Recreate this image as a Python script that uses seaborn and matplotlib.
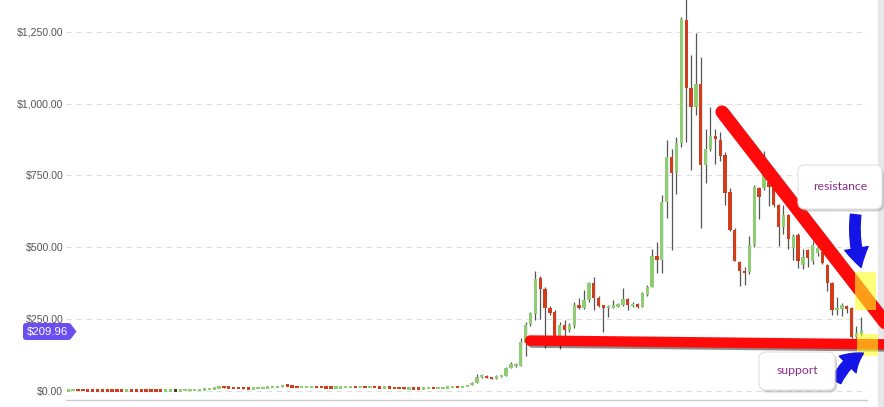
import numpy as np
import pandas as pd
import matplotlib
matplotlib.use("Agg")
import matplotlib.pyplot as plt
import seaborn as sns
from matplotlib.patches import FancyBboxPatch, Rectangle, Polygon, FancyArrowPatch
import matplotlib.patheffects as pe
from matplotlib.ticker import FuncFormatter

# ---------------- data (weekly OHLC, USD) ----------------
opens = [0.8, 1.2, 1.4, 1.3, 1.2, 1.1, 1.0, 0.95, 0.9, 0.8, 0.7, 0.6,
         0.55, 1.0, 0.95, 0.92, 0.9, 0.88, 0.86, 0.85, 0.83, 0.9, 0.95,
         0.95, 1.2, 1.5, 2.2, 2.5, 3.5, 4.5, 6.0, 9.5, 12.5, 11.5, 10.5, 9.5, 8.5, 8.0,
         7.6, 8.5, 9.5, 10.5, 12.0, 13.5, 14.5, 20.0, 17.0, 13.0, 12.0, 12.5, 13.0,
         13.5, 12.0, 11.5, 11.0, 10.8, 11.2, 11.8, 12.2, 12.8, 12.2, 12.6, 12.0,
         12.3, 11.4, 10.8, 11.2, 10.5, 10.0, 9.0, 7.8, 8.3, 8.0, 7.3, 8.0, 9.8, 9.6,
         10.2, 10.8, 11.5, 13.0, 12.5, 15.0, 19.0, 28.0, 48.0, 52.0, 45.0, 42.0, 50.0,
         52, 80, 86, 87, 167, 233, 268, 393, 355, 289, 275, 188,
         230, 210, 226, 299, 289, 317, 376, 324, 299, 289, 290, 292,
         299, 320, 295, 302, 292, 334, 362, 470, 456, 658, 814, 758,
         863, 1290, 1054, 988, 1068, 786, 842, 887, 873, 821, 692, 560,
         449, 417, 414, 508, 706, 706, 727, 710, 647, 570, 612, 497,
         543, 438, 490, 452, 481, 483, 438, 375, 281, 285, 295, 289, 188, 195]
highs = [1.5, 1.6, 1.5, 1.4, 1.3, 1.2, 1.1, 1.0, 0.95, 0.85, 0.75, 0.65,
         1.1, 1.05, 1.0, 0.95, 0.93, 0.9, 0.9, 0.88, 0.92, 0.98, 1.0,
         1.3, 1.6, 2.3, 2.6, 3.6, 4.7, 6.2, 10.5, 15.0, 13.0, 12.0, 11.0, 10.0, 9.0, 8.5,
         8.8, 9.8, 10.8, 12.5, 14.0, 15.0, 21.0, 21.0, 17.5, 13.5, 13.0, 15.5, 15.5,
         14.0, 12.3, 11.8, 11.3, 11.5, 13.5, 12.5, 13.0, 13.0, 12.8, 12.8, 12.5,
         12.4, 11.6, 11.4, 11.3, 10.6, 10.1, 9.1, 8.5, 8.4, 8.1, 8.2, 10.0, 10.0, 10.5,
         11.0, 11.8, 13.5, 13.3, 15.5, 19.5, 29.0, 58.0, 57.0, 54.0, 47.0, 55.0, 53.0,
         82, 100, 95, 184, 240, 275, 418, 400, 360, 295, 280, 240,
         245, 236, 310, 323, 351, 380, 397, 330, 300, 300, 315, 306,
         358, 322, 310, 305, 345, 368, 494, 519, 682, 873, 842, 883,
         1301, 1420, 1169, 1245, 1162, 911, 988, 911, 900, 830, 706, 565,
         452, 432, 539, 715, 710, 835, 745, 720, 650, 648, 615, 545,
         550, 494, 495, 520, 505, 490, 440, 378, 326, 305, 300, 292, 225, 257]
lows = [0.7, 1.1, 1.2, 1.1, 1.0, 0.9, 0.9, 0.8, 0.75, 0.65, 0.5, 0.45,
        0.5, 0.9, 0.88, 0.85, 0.85, 0.83, 0.82, 0.8, 0.82, 0.88, 0.9,
        0.93, 1.15, 1.45, 2.1, 2.4, 3.4, 4.4, 5.9, 9.0, 10.5, 10.0, 9.0, 8.0, 7.5, 7.0,
        7.5, 8.3, 9.3, 10.3, 11.5, 13.0, 14.0, 16.0, 12.5, 11.5, 11.8, 12.0, 12.5,
        11.8, 11.2, 10.8, 10.5, 10.6, 11.0, 11.6, 12.0, 12.0, 12.0, 11.8, 11.8,
        11.2, 10.6, 10.6, 10.3, 9.8, 8.8, 7.0, 7.6, 7.8, 7.1, 7.2, 7.9, 9.4, 9.5,
        10.0, 10.6, 11.3, 12.2, 12.3, 14.8, 18.5, 27.0, 44.0, 44.0, 40.0, 41.0, 48.0,
        51, 78, 84, 85, 120, 225, 247, 250, 150, 265, 181, 146,
        184, 205, 220, 285, 285, 310, 282, 290, 205, 258, 288, 290,
        296, 282, 292, 288, 290, 330, 360, 410, 410, 602, 490, 685,
        850, 866, 769, 960, 567, 723, 835, 790, 800, 647, 555, 450,
        365, 369, 405, 500, 598, 700, 643, 640, 504, 545, 494, 455,
        427, 425, 431, 440, 470, 440, 348, 264, 264, 260, 270, 185, 182, 190]
closes = [1.2, 1.4, 1.3, 1.2, 1.1, 1.0, 0.95, 0.9, 0.8, 0.7, 0.6, 0.55,
          1.0, 0.95, 0.92, 0.9, 0.88, 0.86, 0.85, 0.83, 0.9, 0.95, 0.95,
          1.2, 1.5, 2.2, 2.5, 3.5, 4.5, 6.0, 9.5, 12.5, 11.5, 10.5, 9.5, 8.5, 8.0, 7.6,
          8.5, 9.5, 10.5, 12.0, 13.5, 14.5, 20.0, 17.0, 13.0, 12.0, 12.5, 13.0, 13.5,
          12.0, 11.5, 11.0, 10.8, 11.2, 11.8, 12.2, 12.8, 12.2, 12.6, 12.0, 12.3,
          11.4, 10.8, 11.2, 10.5, 10.0, 9.0, 7.8, 8.3, 8.0, 7.3, 8.0, 9.8, 9.6, 10.2,
          10.8, 11.5, 13.0, 12.5, 15.0, 19.0, 28.0, 48.0, 52.0, 45.0, 42.0, 50.0, 52.0,
          80, 94, 92, 170, 230, 271, 390, 355, 289, 271, 188, 230,
          210, 228, 299, 289, 317, 376, 322, 296, 289, 294, 296, 303,
          320, 299, 302, 292, 341, 362, 470, 456, 658, 814, 758, 863,
          1294, 1054, 988, 1068, 786, 842, 887, 876, 817, 689, 560, 452,
          417, 410, 508, 710, 675, 751, 710, 647, 570, 612, 528, 539,
          450, 466, 462, 508, 497, 445, 375, 281, 288, 299, 285, 188, 202, 210]

y_ticks = [0, 250, 500, 750, 1000, 1250]
last_price_label = "$209.96"
note_resistance = "resistance"
note_support = "support"

assert len(opens) == len(highs) == len(lows) == len(closes)

df = pd.DataFrame({"open": opens, "high": highs, "low": lows, "close": closes})
df["week"] = np.arange(len(df))

# ---------------- style ----------------
sns.set_theme(style="white")
plt.rcParams["font.family"] = ["Liberation Sans", "DejaVu Sans"]

GREEN = "#8fcd72"
RED = "#d23c1c"
WICK = "#555555"

W, H = 884, 407
fig = plt.figure(figsize=(W / 100, H / 100), dpi=100)
ax = fig.add_axes([66 / W, 7 / H, (867 - 66) / W, 400 / H])
ax.set_xlim(-0.47, 164.17)
ax.set_ylim(-32.4, 1360.4)

# candles
min_h = 8.0
diff = (df["close"] - df["open"]).abs()
heights = np.maximum(diff, min_h)
mids = (df["open"] + df["close"]) / 2
bottoms = np.where(diff < min_h, mids - min_h / 2, np.minimum(df["open"], df["close"]))
colors = np.where(df["close"] > df["open"], GREEN,
                  np.where(df["close"] < df["open"], RED, "#444444"))

ax.vlines(df["week"], df["low"], df["high"], color=WICK, lw=0.9, zorder=2)
ax.bar(df["week"], heights, bottom=bottoms, width=0.68, color=colors,
       linewidth=0, zorder=3)

ax.set_yticks(y_ticks)
ax.yaxis.set_major_formatter(FuncFormatter(lambda v, p: f"${v:,.2f}"))
ax.tick_params(axis="y", length=0, pad=2, labelsize=7.6, labelcolor="#555555")
ax.set_xticks([])
ax.yaxis.grid(True, linestyle=(0, (5, 4)), color="#dedede", lw=0.8, zorder=0)
for s in ["top", "right", "left"]:
    ax.spines[s].set_visible(False)
ax.spines["bottom"].set_color("#cccccc")
ax.spines["bottom"].set_linewidth(1.0)

# ---------------- overlay annotations (pixel coordinates) ----------------
ov = fig.add_axes([0, 0, 1, 1])
ov.set_xlim(0, W)
ov.set_ylim(H, 0)
ov.axis("off")
ov.patch.set_alpha(0)

ov.add_patch(Rectangle((878, 0), 6, H, color="#e8e8e8", zorder=0))

shadow = [pe.SimpleLineShadow(offset=(1.5, -1.5), shadow_color="black", alpha=0.45),
          pe.Normal()]
ov.plot([722, 900], [112, 342], color="#ff0a0a", lw=9.5, solid_capstyle="round",
        path_effects=shadow, zorder=5)
ov.plot([530, 900], [340.5, 344.5], color="#ff0a0a", lw=7.5, solid_capstyle="round",
        path_effects=shadow, zorder=5)

ov.add_patch(Rectangle((855, 272), 21, 38, fc="#ffff20", ec="none", alpha=0.6, zorder=6))
ov.add_patch(Rectangle((857, 334), 21, 22, fc="#ffff20", ec="none", alpha=0.6, zorder=6))

arrow_style = "simple,head_width=1.7,head_length=1.4,tail_width=0.75"
ov.add_patch(FancyArrowPatch((856, 212), (862, 270), arrowstyle=arrow_style,
                             mutation_scale=10, connectionstyle="arc3,rad=0.12",
                             color="#1414e6", capstyle="round", zorder=7))
ov.add_patch(FancyArrowPatch((835, 384), (866, 352), arrowstyle=arrow_style,
                             mutation_scale=10, connectionstyle="arc3,rad=-0.2",
                             color="#1414e6", capstyle="round", zorder=7))

def callout(x, y, w, h, text):
    ov.add_patch(FancyBboxPatch((x + 2, y + 2.5), w, h,
                                boxstyle="round,pad=0,rounding_size=7",
                                fc="#9a9a9a", ec="none", alpha=0.45, zorder=8))
    ov.add_patch(FancyBboxPatch((x, y), w, h,
                                boxstyle="round,pad=0,rounding_size=7",
                                fc="white", ec="#e2e2e2", lw=0.8, zorder=9))
    ov.text(x + w / 2, y + h / 2, text, ha="center", va="center",
            color="#8b2c8e", fontsize=8.8, family=["Lato", "DejaVu Sans"], zorder=10)

callout(798, 165, 84, 44, note_resistance)
callout(759, 352, 76, 38, note_support)

# current price tag
ov.add_patch(FancyBboxPatch((23, 323), 48, 17, boxstyle="round,pad=0,rounding_size=3",
                            fc="#6b4ef2", ec="none", zorder=11))
ov.add_patch(Polygon([(70, 323), (76.5, 331.5), (70, 340)], closed=True,
                     fc="#6b4ef2", ec="none", zorder=11))
ov.text(47, 331.8, last_price_label, ha="center", va="center", color="white",
        fontsize=8.2, zorder=12)

fig.savefig("out.png", dpi=100)
